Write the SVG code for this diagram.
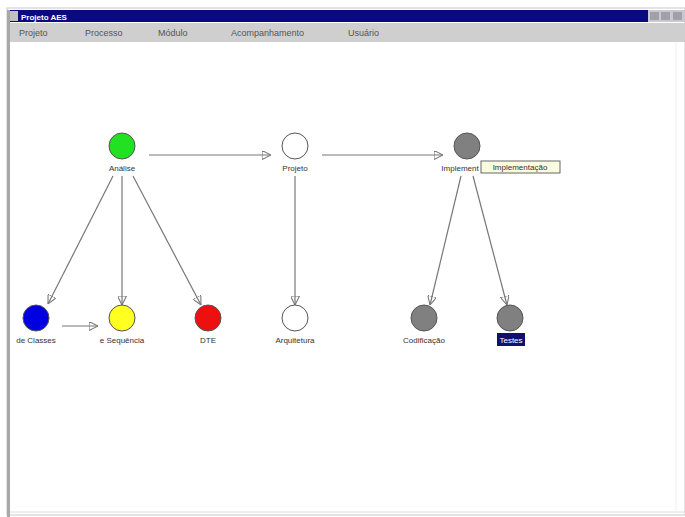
<svg xmlns="http://www.w3.org/2000/svg" width="685" height="517" viewBox="0 0 685 517">
<defs>
<style>
.lbl{font-family:"Liberation Sans",Arial,sans-serif;font-size:8px;fill:#333;text-anchor:middle}
.menu{font-family:"Liberation Sans",Arial,sans-serif;font-size:9px;fill:#555}
.node{stroke:#555;stroke-width:1}
.edge{stroke:#777;stroke-width:1.2;fill:none;marker-end:url(#arr)}
</style>
<marker id="arr" viewBox="0 0 10 10" refX="10" refY="5" markerWidth="9" markerHeight="9" markerUnits="userSpaceOnUse" orient="auto">
<path d="M0,0 L10,5 L0,10 Z" fill="none" stroke="#777" stroke-width="1.2"/>
</marker>
</defs>
<rect x="0" y="0" width="685" height="517" fill="#fff"/>
<!-- window chrome -->
<rect x="7" y="8" width="678" height="507" fill="#fff" stroke="#c8c8c8"/>
<rect x="8" y="10" width="640" height="12" fill="#0a0a80"/>
<rect x="9" y="11" width="9" height="10" fill="#c0c0c0"/>
<text x="21" y="19.5" font-family="Liberation Sans,Arial,sans-serif" font-size="8" font-weight="bold" fill="#fff">Projeto AES</text>
<rect x="648" y="10" width="37" height="12" fill="#c8c8d0"/>
<rect x="650" y="12" width="9" height="8" fill="#a0a0a8"/>
<rect x="661" y="12" width="9" height="8" fill="#a0a0a8"/>
<rect x="673" y="12" width="9" height="8" fill="#a0a0a8"/>
<rect x="8" y="23" width="677" height="19" fill="#cfcfcf"/>
<text class="menu" x="19" y="36">Projeto</text>
<text class="menu" x="85" y="36">Processo</text>
<text class="menu" x="158" y="36">Módulo</text>
<text class="menu" x="231" y="36">Acompanhamento</text>
<text class="menu" x="348" y="36">Usuário</text>
<rect x="7" y="10" width="3" height="507" fill="#a8a8a8"/>
<line x1="10" y1="512" x2="685" y2="512" stroke="#ddd"/>
<line x1="676" y1="42" x2="676" y2="512" stroke="#f0f0f0"/>
<!-- connectors -->
<g id="connectors">
<line class="edge" x1="149" y1="155" x2="271" y2="155"/>
<line class="edge" x1="322" y1="155" x2="443" y2="155"/>
<line class="edge" x1="113" y1="176" x2="48" y2="304"/>
<line class="edge" x1="122" y1="176" x2="122" y2="305"/>
<line class="edge" x1="133" y1="176" x2="201" y2="305"/>
<line class="edge" x1="295" y1="176" x2="295" y2="305"/>
<line class="edge" x1="461" y1="176" x2="430" y2="305"/>
<line class="edge" x1="473" y1="176" x2="507" y2="305"/>
<line class="edge" x1="62" y1="326" x2="98" y2="326"/>
</g>
<!-- nodes -->
<g id="analise"><circle class="node" cx="122" cy="146" r="13" fill="#22e022"/><text class="lbl" x="122" y="171">Análise</text></g>
<g id="projeto"><circle class="node" cx="295" cy="146" r="13" fill="#fff"/><text class="lbl" x="295" y="171">Projeto</text></g>
<g id="implementacao"><circle class="node" cx="467" cy="146" r="13" fill="#808080"/><text class="lbl" x="460" y="171">Implement</text>
<rect x="481" y="161" width="79" height="12" fill="#fbfbe0" stroke="#666"/><text class="lbl" x="520" y="170">Implementação</text></g>
<g id="classes"><circle class="node" cx="36" cy="318" r="13" fill="#0000e0"/><text class="lbl" x="36" y="343">de Classes</text></g>
<g id="sequencia"><circle class="node" cx="122" cy="318" r="13" fill="#ffff20"/><text class="lbl" x="122" y="343">e Sequência</text></g>
<g id="dte"><circle class="node" cx="208" cy="318" r="13" fill="#ee1010"/><text class="lbl" x="208" y="343">DTE</text></g>
<g id="arquitetura"><circle class="node" cx="295" cy="318" r="13" fill="#fff"/><text class="lbl" x="295" y="343">Arquitetura</text></g>
<g id="codificacao"><circle class="node" cx="424" cy="318" r="13" fill="#808080"/><text class="lbl" x="424" y="343">Codificação</text></g>
<g id="testes"><circle class="node" cx="510" cy="318" r="13" fill="#808080"/><rect x="497" y="333" width="28" height="13" fill="#10106e"/><text class="lbl" x="511" y="343" style="fill:#fff">Testes</text></g>
</svg>
